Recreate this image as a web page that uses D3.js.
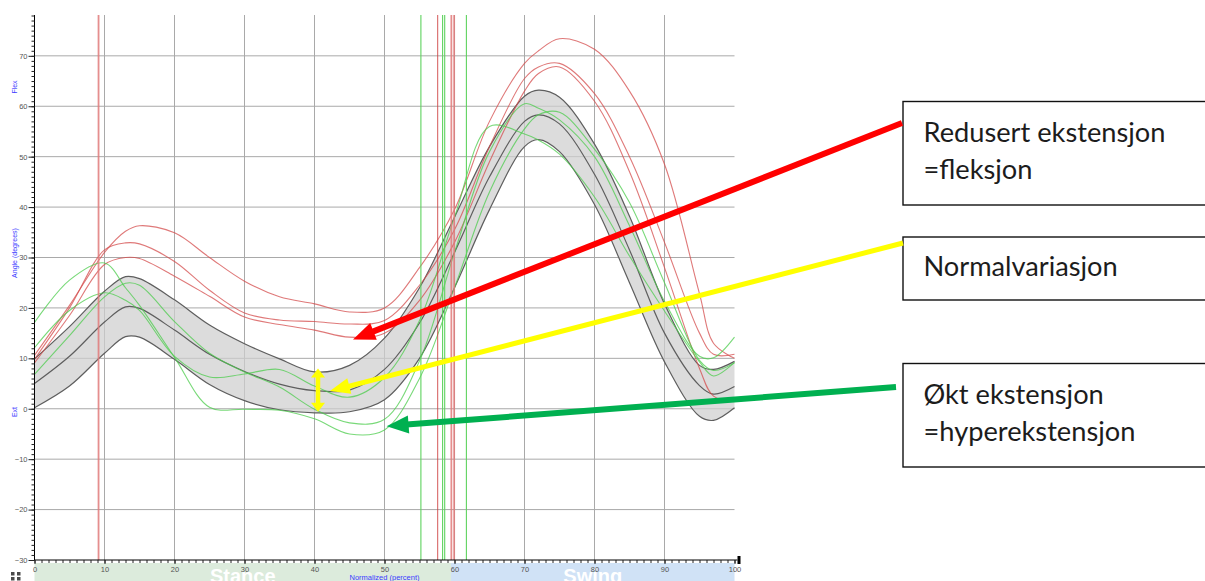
<!DOCTYPE html>
<html><head><meta charset="utf-8">
<script src="https://cdn.jsdelivr.net/npm/d3@7"></script>
<style>
html,body{margin:0;padding:0;background:#fff;}
svg{display:block;}
</style></head>
<body>
<svg id="chart" width="1205" height="581"></svg>
<script>
// Gait cycle sample points (% of cycle)
const gaitPct = [0, 5, 10, 13, 15, 20, 25, 30, 35, 40, 45, 50, 55, 60, 65, 70, 72, 75, 80, 85, 90, 95, 97, 100];

// Normative knee angle band (degrees)
const normMean  = [5.0, 10.4, 17.2, 20.2, 19.9, 15.6, 10.8, 7.4, 4.9, 3.6, 3.7, 7.8, 17.0, 31.0, 46.0, 57.0, 58.3, 56.5, 46.5, 31.5, 15.0, 4.6, 2.9, 4.4];
const normUpper = [9.9, 16.3, 23.3, 26.2, 25.8, 21.6, 16.6, 12.9, 9.9, 7.3, 8.6, 14.0, 24.0, 38.0, 52.0, 62.0, 63.2, 61.8, 52.5, 38.2, 20.8, 8.6, 7.8, 9.4];
const normLower = [0.2, 4.5, 11.0, 14.3, 14.2, 9.8, 4.8, 1.6, -0.2, -0.8, -0.6, 1.8, 10.0, 24.0, 39.5, 52.0, 53.4, 51.0, 40.5, 25.0, 9.3, -1.5, -2.3, 0.2];

// Trials, one side (red)
const redTrial1 = [10.6, 20.5, 31.0, 35.2, 36.3, 34.9, 30.0, 25.3, 22.2, 20.8, 19.2, 20.0, 28.0, 39.5, 57.0, 68.5, 71.0, 73.4, 71.3, 63.0, 48.5, 22.8, 13.0, 10.0];
const redTrial2 = [9.8, 20.0, 31.5, 32.9, 32.7, 29.2, 23.5, 19.0, 17.6, 17.3, 16.8, 17.5, 24.5, 35.5, 52.0, 65.5, 67.8, 68.5, 62.5, 50.0, 33.0, 15.0, 10.8, 10.8];
const redTrial3 = [9.1, 18.5, 28.6, 30.0, 29.8, 26.3, 22.3, 18.2, 16.7, 15.6, 14.2, 15.0, 21.5, 33.0, 49.0, 63.0, 66.5, 67.8, 61.0, 47.0, 28.0, 8.0, 2.5, 1.5];

// Trials, other side (green)
const greenTrial1 = [17.1, 25.5, 28.9, 24.0, 20.5, 10.2, 0.3, -0.1, -0.3, -2.0, -5.0, -4.2, 6.0, 24.0, 43.0, 55.5, 58.3, 58.8, 51.5, 40.9, 25.0, 9.6, 7.6, 9.1];
const greenTrial2 = [6.8, 14.5, 22.2, 24.9, 24.5, 17.3, 11.0, 7.3, 4.3, -0.1, -2.8, -2.1, 9.5, 31.0, 51.0, 60.5, 59.6, 57.3, 50.0, 36.3, 21.3, 10.4, 10.1, 14.2];
const greenTrial3 = [12.1, 19.5, 23.0, 21.5, 19.5, 10.4, 6.3, 6.9, 7.8, 4.5, 2.3, 6.2, 17.5, 38.0, 56.0, 54.5, 53.3, 50.5, 42.0, 30.3, 19.4, 9.3, 6.5, 9.2];

// Gait events (% of cycle)
const redEvents   = [9.15, 57.6, 59.55, 59.95];
const greenEvents = [55.2, 58.3, 58.6, 61.7];

// Phases
const phaseNames = ["Stance", "Swing"];
const phaseBounds = [[0, 59.5], [59.5, 100]];

// Axis ticks
const xTicks = [0, 10, 20, 30, 40, 50, 60, 70, 80, 90, 100];
const yTicks = [-30, -20, -10, 0, 10, 20, 30, 40, 50, 60, 70];

// Annotation texts
const noteReduced = ["Redusert ekstensjon", "=fleksjon"];
const noteNormal  = ["Normalvariasjon"];
const noteHyper   = ["Økt ekstensjon", "=hyperekstensjon"];

const svg = d3.select("#chart");

const x = d3.scaleLinear().domain([0, 100]).range([34.5, 734.5]);
const y = d3.scaleLinear().domain([-30, 78.1]).range([560, 15]);

const pts = arr => gaitPct.map((p, i) => [p, arr[i]]);
const curve = d3.curveCatmullRom.alpha(0.5);
const line = d3.line().x(d => x(d[0])).y(d => y(d[1])).curve(curve);

// Phase bands below the axis
const phaseColors = ["#dcebdc", "#d0e2f6"];
const phaseG = svg.append("g");
phaseBounds.forEach((b, i) => {
  phaseG.append("rect")
    .attr("x", x(b[0])).attr("y", 563)
    .attr("width", x(b[1]) - x(b[0])).attr("height", 20)
    .attr("fill", phaseColors[i]);
  phaseG.append("text")
    .attr("x", (x(b[0]) + x(b[1])) / 2).attr("y", 583)
    .attr("text-anchor", "middle")
    .attr("font-family", "Liberation Sans, Arial, sans-serif")
    .attr("font-weight", "bold").attr("font-size", 20)
    .attr("fill", "#ffffff").text(phaseNames[i]);
});

// Grid
const grid = svg.append("g").attr("stroke", "#a9a9a9").attr("stroke-width", 1);
yTicks.slice(1).forEach(t => {
  grid.append("line").attr("x1", x(0)).attr("x2", x(100))
    .attr("y1", y(t)).attr("y2", y(t));
});
xTicks.slice(1, -1).forEach(t => {
  grid.append("line").attr("x1", x(t)).attr("x2", x(t))
    .attr("y1", y(78.1)).attr("y2", y(-30));
});

// Normative band
const area = d3.area().x(d => x(d.p)).y0(d => y(d.lo)).y1(d => y(d.hi)).curve(curve);
const bandData = gaitPct.map((p, i) => ({ p, lo: normLower[i], hi: normUpper[i] }));
svg.append("path").attr("d", area(bandData))
  .attr("fill", "#cfcfcf").attr("fill-opacity", 0.72);
[normUpper, normLower, normMean].forEach(arr => {
  svg.append("path").attr("d", line(pts(arr)))
    .attr("fill", "none").attr("stroke", "#5e5e5e").attr("stroke-width", 1.2);
});

// Trial curves
[redTrial1, redTrial2, redTrial3].forEach(arr => {
  svg.append("path").attr("d", line(pts(arr)))
    .attr("fill", "none").attr("stroke", "#d44c4c").attr("stroke-opacity", 0.75)
    .attr("stroke-width", 1.1);
});
[greenTrial1, greenTrial2, greenTrial3].forEach(arr => {
  svg.append("path").attr("d", line(pts(arr)))
    .attr("fill", "none").attr("stroke", "#4ccc4c").attr("stroke-opacity", 0.75)
    .attr("stroke-width", 1.1);
});

// Event lines
redEvents.forEach((e, i) => {
  svg.append("line").attr("x1", x(e)).attr("x2", x(e))
    .attr("y1", y(78.1)).attr("y2", y(-30))
    .attr("stroke", i === 1 ? "#cc3c3c" : "#e07a7a")
    .attr("stroke-width", i === 1 ? 1 : 1.8).attr("stroke-opacity", 0.85);
});
greenEvents.forEach(e => {
  svg.append("line").attr("x1", x(e)).attr("x2", x(e))
    .attr("y1", y(78.1)).attr("y2", y(-30))
    .attr("stroke", "#5fd35f").attr("stroke-width", 1.1);
});

// Axes
const yAxis = d3.axisLeft(y).tickValues(d3.range(-30, 79, 1)).tickSize(3).tickFormat("");
svg.append("g").attr("transform", `translate(${x(0)},0)`).call(yAxis)
  .call(g => g.selectAll("line").attr("stroke", "#222"))
  .call(g => g.select(".domain").attr("stroke", "#000").attr("d", `M0,${y(78.1)}V${y(-30)}`));
const yMajor = d3.axisLeft(y).tickValues(yTicks).tickSize(6).tickPadding(1);
svg.append("g").attr("transform", `translate(${x(0)},0)`).call(yMajor)
  .call(g => g.select(".domain").remove())
  .call(g => g.selectAll("line").attr("stroke", "#222"))
  .call(g => g.selectAll("text").attr("font-size", 7.5).attr("fill", "#555")
    .attr("font-family", "Liberation Sans, Arial, sans-serif"));

const xAxis = d3.axisBottom(x).tickValues(d3.range(0, 101, 1)).tickSize(3).tickFormat("");
svg.append("g").attr("transform", `translate(0,${y(-30)})`).call(xAxis)
  .call(g => g.selectAll("line").attr("stroke", "#222"))
  .call(g => g.select(".domain").attr("stroke", "#000").attr("d", `M${x(0)},0H${x(100) + 3}`));
const xMajor = d3.axisBottom(x).tickValues(xTicks).tickSize(4).tickPadding(3);
svg.append("g").attr("transform", `translate(0,${y(-30)})`).call(xMajor)
  .call(g => g.select(".domain").remove())
  .call(g => g.selectAll("line").attr("stroke", "#222"))
  .call(g => g.selectAll("text").attr("font-size", 7.5).attr("fill", "#555")
    .attr("font-family", "Liberation Sans, Arial, sans-serif"));
svg.append("rect").attr("x", x(100) + 3).attr("y", y(-30) - 4).attr("width", 3).attr("height", 8).attr("fill", "#000");

// Axis titles
const blue = "#3b3bff";
svg.append("text").attr("x", (x(0) + x(100)) / 2).attr("y", 580)
  .attr("text-anchor", "middle").attr("font-size", 7.5).attr("fill", blue)
  .attr("font-family", "Liberation Sans, Arial, sans-serif").text("Normalized (percent)");
[["Flex", 87], ["Angle (degrees)", 253], ["Ext", 412]].forEach(([t, cy]) => {
  svg.append("text").attr("transform", `translate(17,${cy}) rotate(-90)`)
    .attr("text-anchor", "middle").attr("font-size", 7).attr("fill", blue)
    .attr("font-family", "Liberation Sans, Arial, sans-serif").text(t);
});

// Small view icon in the corner
[[11, 572], [17, 572], [11, 577], [17, 577]].forEach(([ix, iy]) => {
  svg.append("rect").attr("x", ix).attr("y", iy).attr("width", 3.5).attr("height", 3.5).attr("fill", "#4a4a4a");
});

// Annotation boxes
const boxes = [
  { top: 101.5, bottom: 205, lines: noteReduced, base: [141.5, 178.5] },
  { top: 237, bottom: 300, lines: noteNormal, base: [275.5] },
  { top: 363.5, bottom: 467, lines: noteHyper, base: [403.5, 440.5] }
];
const boxG = svg.append("g");
boxes.forEach(b => {
  boxG.append("rect").attr("x", 903).attr("y", b.top)
    .attr("width", 320).attr("height", b.bottom - b.top)
    .attr("fill", "#fff").attr("stroke", "#111").attr("stroke-width", 1.4);
  b.lines.forEach((t, i) => {
    boxG.append("text").attr("class", "note").attr("x", 923.5).attr("y", b.base[i])
      .attr("font-family", "Lato, 'Open Sans', sans-serif").attr("font-size", 22)
      .attr("fill", "#1c1c1c").text(t);
  });
});
// size the note font so the first line spans its measured width
const probe = boxG.select("text.note").node();
const w = probe.getComputedTextLength();
boxG.selectAll("text.note").attr("font-size", 22 * 242 / w);

// Arrows
function arrow(x1, y1, x2, y2, color, width, headLen, headW) {
  const dx = x2 - x1, dy = y2 - y1, L = Math.hypot(dx, dy);
  const ux = dx / L, uy = dy / L, nx = -uy, ny = ux;
  const bx = x2 - ux * headLen, by = y2 - uy * headLen;
  svg.append("line").attr("x1", x1).attr("y1", y1).attr("x2", bx + ux * 2).attr("y2", by + uy * 2)
    .attr("stroke", color).attr("stroke-width", width);
  svg.append("path")
    .attr("d", `M${x2},${y2}L${bx + nx * headW / 2},${by + ny * headW / 2}L${bx - nx * headW / 2},${by - ny * headW / 2}Z`)
    .attr("fill", color);
}
arrow(902, 123, x(45.5), y(13.75), "#ff0000", 6, 22, 18);
arrow(903, 243, x(42.2), y(3.5), "#ffff00", 5, 20, 16);
arrow(896, 387, x(50.3), y(-3.45), "#00b050", 6, 22, 18);

// Double-headed marker spanning the normal band
(function () {
  const cx = x(40.5), yTop = y(8.0), yBot = y(-0.6), hl = 9, hw = 14;
  svg.append("line").attr("x1", cx).attr("x2", cx).attr("y1", yTop + hl - 1).attr("y2", yBot - hl + 1)
    .attr("stroke", "#ffff00").attr("stroke-width", 4.5);
  svg.append("path").attr("d", `M${cx},${yTop}L${cx - hw / 2},${yTop + hl}L${cx + hw / 2},${yTop + hl}Z`).attr("fill", "#ffff00");
  svg.append("path").attr("d", `M${cx},${yBot}L${cx - hw / 2},${yBot - hl}L${cx + hw / 2},${yBot - hl}Z`).attr("fill", "#ffff00");
})();
</script>
</body></html>
